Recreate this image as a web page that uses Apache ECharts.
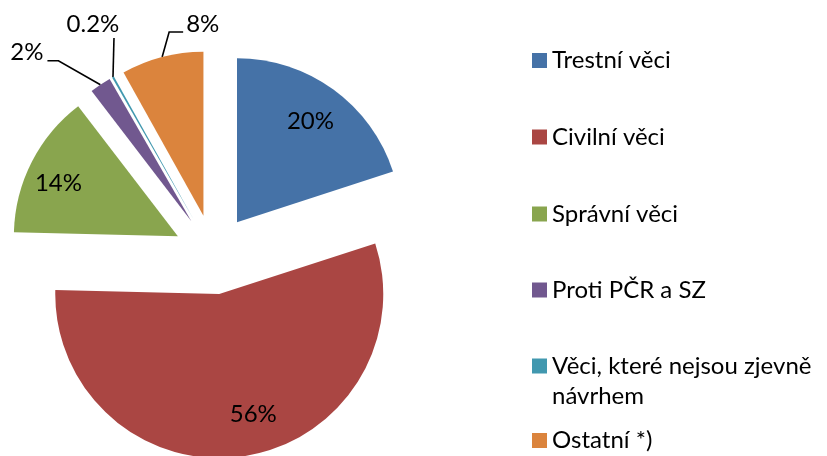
<!DOCTYPE html>
<html>
<head>
<meta charset="utf-8">
<script src="https://cdn.jsdelivr.net/npm/echarts@6/dist/echarts.min.js"></script>
<style>
html, body { margin: 0; padding: 0; background: #ffffff; }
#chart { width: 827px; height: 456px; }
</style>
</head>
<body>
<div id="chart"></div>
<script>
// ---- data ----
const categories = ['Trestní věci', 'Civilní věci', 'Správní věci', 'Proti PČR a SZ', 'Věci, které nejsou zjevně návrhem', 'Ostatní *)'];
const values = [20, 55.4, 14.2, 2.1, 0.2, 8.1];
const valueLabels = ['20%', '56%', '14%', '2%', '0.2%', '8%'];
const insideLabelled = ['Trestní věci', 'Civilní věci', 'Správní věci'];

// ---- styles ----
const colors = ['#4572A7', '#AA4643', '#89A54E', '#71588F', '#4198AF', '#DB843D'];
const FONT = 'Lato';
const FONT_SIZE = 24;
const LINE_H = 30;
const CENTER = [213.5, 254.5];
const RADIUS = 164;
const EXPLODE = 40;
const legendMarkerCenters = [60.5, 137, 214, 290, 366, 440.5];
const insideLabelOffset = { 'Trestní věci': [0, 0], 'Civilní věci': [16, -4], 'Správní věci': [-8, 4] };
// leader line shape for the small slices (relative to the library anchor on the slice edge)
const leaderSpec = {
  'Proti PČR a SZ': { bend: [-42, -24], tail: -11, align: 'right', text: [-4, -8] },
  'Věci, které nejsou zjevně návrhem': { bend: [1, -39], tail: 0, align: 'center', text: [-21, -13.5] },
  'Ostatní *)': { bend: [7, -25], tail: 14, align: 'left', text: [3, -7.5] }
};

const chart = echarts.init(document.getElementById('chart'), null, { renderer: 'canvas' });

const mainData = categories.map((name, i) => ({
  name: name,
  value: values[i],
  selected: true,
  itemStyle: { color: colors[i] },
  select: { itemStyle: { color: colors[i], borderWidth: 0 } }
}));

const labelData = categories.map((name, i) => {
  const inside = insideLabelled.indexOf(name) >= 0;
  return {
    name: name,
    value: values[i],
    label: inside
      ? { show: true, position: 'inside', offset: insideLabelOffset[name] }
      : { show: true, position: 'outside' },
    labelLine: { show: !inside }
  };
});

const richText = {
  t: { fontFamily: FONT, fontSize: FONT_SIZE, color: '#000000', lineHeight: LINE_H }
};

const legends = categories.map((name, i) => {
  const wrap = name === 'Věci, které nejsou zjevně návrhem';
  return {
    data: [name],
    orient: 'vertical',
    left: 532,
    top: legendMarkerCenters[i] - (wrap ? 1.5 * LINE_H : 0.5 * LINE_H),
    padding: 0,
    itemWidth: 15,
    itemHeight: 15,
    itemGap: 0,
    icon: 'rect',
    selectedMode: false,
    formatter: wrap
      ? (n) => '{t| }\n' + n.replace(/^(.*) (\S+)$/, '{t|$1}\n{t|$2}')
      : '{name}',
    textStyle: {
      fontFamily: FONT,
      fontSize: FONT_SIZE,
      color: '#000000',
      lineHeight: LINE_H,
      rich: richText
    }
  };
});

chart.setOption({
  animation: false,
  backgroundColor: '#ffffff',
  legend: legends,
  series: [
    {
      type: 'pie',
      name: 'slices',
      center: CENTER,
      radius: RADIUS,
      startAngle: 90,
      clockwise: true,
      selectedMode: 'multiple',
      selectedOffset: EXPLODE,
      avoidLabelOverlap: false,
      itemStyle: { borderWidth: 0 },
      emphasis: { disabled: true },
      label: { show: false },
      labelLine: { show: false },
      data: mainData
    },
    {
      type: 'pie',
      name: 'labels',
      silent: true,
      center: CENTER,
      radius: [RADIUS + EXPLODE - 84, RADIUS + EXPLODE],
      startAngle: 90,
      clockwise: true,
      selectedMode: false,
      avoidLabelOverlap: false,
      itemStyle: { color: 'rgba(0,0,0,0)', borderWidth: 0 },
      emphasis: { disabled: true },
      label: {
        color: '#000000',
        fontFamily: FONT,
        fontSize: FONT_SIZE,
        overflow: 'none',
        formatter: (p) => valueLabels[p.dataIndex]
      },
      labelLine: {
        show: true,
        length: 15,
        length2: 10,
        lineStyle: { color: '#000000', width: 1.6 }
      },
      labelLayout: function (p) {
        const spec = leaderSpec[categories[p.dataIndex]];
        if (!spec || !p.labelLinePoints) return {};
        const a = p.labelLinePoints[0];
        const b = [a[0] + spec.bend[0], a[1] + spec.bend[1]];
        const c = [b[0] + spec.tail, b[1]];
        return {
          x: c[0] + spec.text[0],
          y: c[1] + spec.text[1],
          align: spec.align,
          verticalAlign: 'middle',
          labelLinePoints: [a, b, c]
        };
      },
      data: labelData
    }
  ]
});
</script>
</body>
</html>
